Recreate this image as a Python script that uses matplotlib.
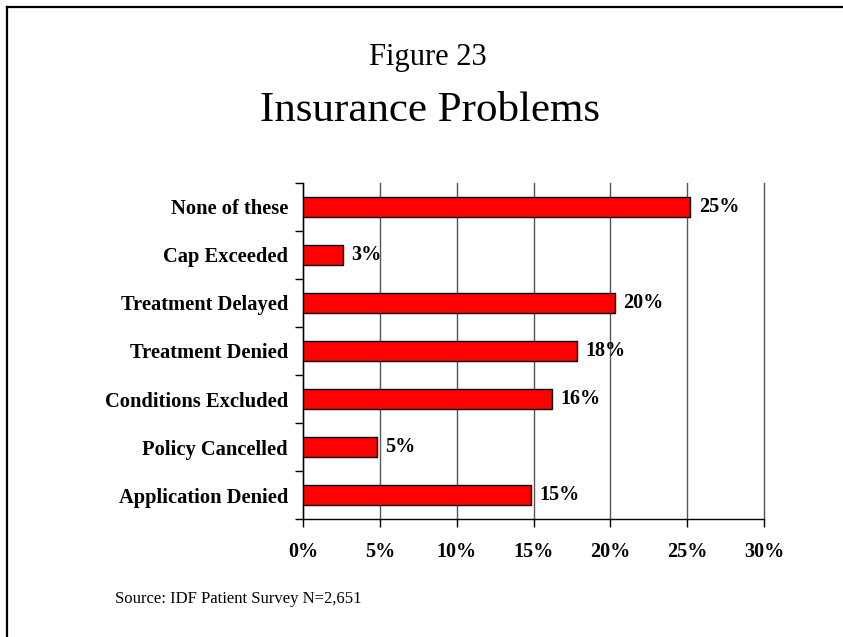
import matplotlib.pyplot as plt
from matplotlib.lines import Line2D

categories = ['None of these', 'Cap Exceeded', 'Treatment Delayed', 'Treatment Denied',
              'Conditions Excluded', 'Policy Cancelled', 'Application Denied']
percent = [25.2, 2.6, 20.3, 17.8, 16.2, 4.8, 14.8]
x_ticks = [0, 5, 10, 15, 20, 25, 30]

plt.rcParams['font.family'] = ['Liberation Serif', 'DejaVu Serif']

fig = plt.figure(figsize=(8.43, 6.37), dpi=100)
ax = fig.add_axes([0.3598, 0.1848, 0.5465, 0.5284])

ypos = list(range(len(categories)))
ax.barh(ypos, percent, height=0.42, color='#FF0000', edgecolor='black',
        linewidth=1, zorder=3)

for y, v in zip(ypos, percent):
    ax.annotate(f'{v:.0f}%', (v, y), xytext=(6, 0), textcoords='offset points',
                ha='left', va='center', fontsize=14.5, fontweight='bold', zorder=4)

ax.set_xlim(0, 30)
ax.set_ylim(len(categories) - 0.5, -0.5)

ax.set_xticks(x_ticks)
ax.set_xticklabels([f'{t}%' for t in x_ticks], fontsize=14.5, fontweight='bold')
ax.tick_params(axis='x', direction='out', length=6, width=1, pad=10)
ax.grid(axis='x', color='#555555', linewidth=1, zorder=0)
for gl in ax.get_xgridlines():
    gl.set_clip_on(False)

# category boundaries get tick marks, names sit between them
bounds = [i - 0.5 for i in range(len(categories) + 1)]
ax.set_yticks(bounds)
ax.set_yticklabels([])
ax.set_yticks(ypos, minor=True)
ax.set_yticklabels(categories, minor=True, fontsize=14.8, fontweight='bold')
ax.tick_params(axis='y', which='major', direction='out', length=6, width=1)
ax.tick_params(axis='y', which='minor', length=0, pad=11)

for s in ['top', 'right']:
    ax.spines[s].set_visible(False)
ax.spines['left'].set_linewidth(1)
ax.spines['bottom'].set_linewidth(1)

fig.text(0.508, 0.898, 'Figure 23', ha='center', va='baseline', fontsize=22)
fig.text(0.51, 0.81, 'Insurance Problems', ha='center', va='baseline', fontsize=31)
fig.text(0.136, 0.053, 'Source: IDF Patient Survey N=2,651', ha='left', va='baseline',
         fontsize=12)

# frame edges along the top and left
fig.add_artist(Line2D([0.0083, 1.0], [0.989, 0.989], color='black', linewidth=1.6,
                      transform=fig.transFigure))
fig.add_artist(Line2D([0.0083, 0.0083], [0.0, 0.989], color='black', linewidth=1.6,
                      transform=fig.transFigure))

fig.savefig('out.png', dpi=100)
